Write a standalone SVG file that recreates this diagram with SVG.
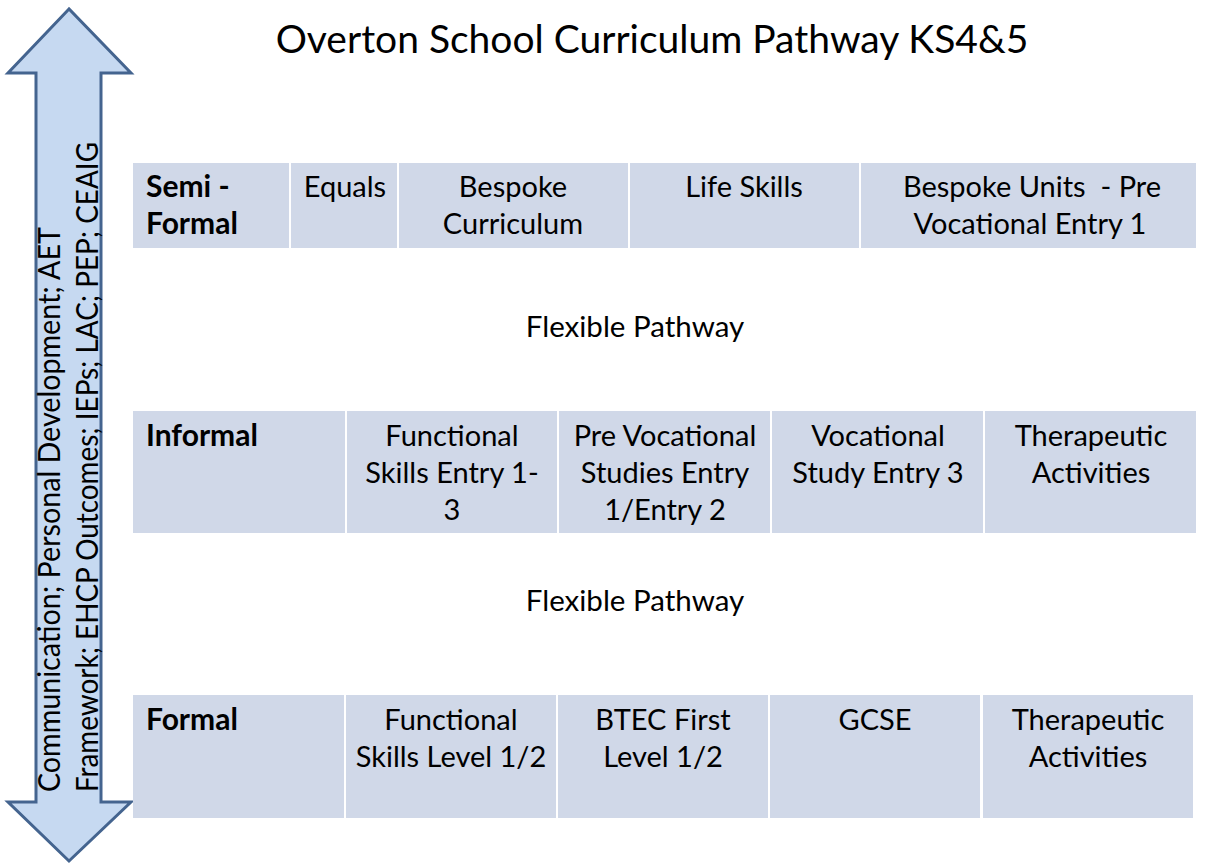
<svg xmlns="http://www.w3.org/2000/svg" width="1206" height="864" viewBox="0 0 1206 864">
  <style>
    text { font-family: Lato, "Open Sans", "Liberation Sans", sans-serif; fill: #000; }
    .title { font-size: 39px; text-anchor: middle; }
    .cell { fill: #d0d8e8; }
    .head { font-size: 30px; font-weight: bold; }
    .item { font-size: 29px; text-anchor: middle; }
    .flex { font-size: 29.5px; text-anchor: middle; }
    .side { font-size: 31px; }
    .arrow { fill: #c6d9f1; stroke: #44648f; stroke-width: 3; stroke-linejoin: miter; }
  </style>

  <rect width="1206" height="864" fill="#ffffff"/>

  <text class="title" x="652" y="53">Overton School Curriculum Pathway KS4&amp;5</text>

  <!-- double-headed arrow with the cross-curricular strands -->
  <g id="strands">
    <path class="arrow" d="M69,9 L8,73 L36,73 L36,802 L8,802 L69,861 L131,802 L101,802 L101,73 L131,73 Z"/>
    <text class="side" transform="translate(60,792) rotate(-90)" textLength="565" lengthAdjust="spacingAndGlyphs">Communication; Personal Development; AET</text>
    <text class="side" transform="translate(98,792) rotate(-90)" textLength="650" lengthAdjust="spacingAndGlyphs">Framework; EHCP Outcomes; IEPs; LAC; PEP; CEAIG</text>
  </g>

  <!-- Semi-formal row -->
  <g id="row-semi-formal">
    <rect class="cell" x="133" y="163" width="156" height="85"/>
    <rect class="cell" x="291" y="163" width="106" height="85"/>
    <rect class="cell" x="399" y="163" width="229" height="85"/>
    <rect class="cell" x="630" y="163" width="229" height="85"/>
    <rect class="cell" x="861" y="163" width="335" height="85"/>
    <text class="head" x="146" y="197">Semi -</text>
    <text class="head" x="146" y="234">Formal</text>
    <text class="item" x="345" y="197">Equals</text>
    <text class="item" x="513" y="197">Bespoke</text>
    <text class="item" x="513" y="234">Curriculum</text>
    <text class="item" x="744" y="197">Life Skills</text>
    <text class="item" x="1032" y="197" xml:space="preserve">Bespoke Units  - Pre</text>
    <text class="item" x="1030" y="234">Vocational Entry 1</text>
  </g>

  <g id="flex-1">
    <text class="flex" x="635" y="337">Flexible Pathway</text>
  </g>

  <!-- Informal row -->
  <g id="row-informal">
    <rect class="cell" x="133" y="411" width="212" height="122"/>
    <rect class="cell" x="347" y="411" width="210" height="122"/>
    <rect class="cell" x="559" y="411" width="211" height="122"/>
    <rect class="cell" x="772" y="411" width="211" height="122"/>
    <rect class="cell" x="985" y="411" width="211" height="122"/>
    <text class="head" x="146" y="446">Informal</text>
    <text class="item" x="452" y="446">Functional</text>
    <text class="item" x="452" y="483">Skills Entry 1-</text>
    <text class="item" x="452" y="520">3</text>
    <text class="item" x="665" y="446">Pre Vocational</text>
    <text class="item" x="665" y="483">Studies Entry</text>
    <text class="item" x="665" y="520">1/Entry 2</text>
    <text class="item" x="878" y="446">Vocational</text>
    <text class="item" x="878" y="483">Study Entry 3</text>
    <text class="item" x="1091" y="446">Therapeutic</text>
    <text class="item" x="1091" y="483">Activities</text>
  </g>

  <g id="flex-2">
    <text class="flex" x="635" y="611">Flexible Pathway</text>
  </g>

  <!-- Formal row -->
  <g id="row-formal">
    <rect class="cell" x="133" y="695" width="211" height="123"/>
    <rect class="cell" x="346" y="695" width="210" height="123"/>
    <rect class="cell" x="558" y="695" width="210" height="123"/>
    <rect class="cell" x="770" y="695" width="210" height="123"/>
    <rect class="cell" x="983" y="695" width="210" height="123"/>
    <text class="head" x="146" y="730">Formal</text>
    <text class="item" x="451" y="730">Functional</text>
    <text class="item" x="451" y="767">Skills Level 1/2</text>
    <text class="item" x="663" y="730">BTEC First</text>
    <text class="item" x="663" y="767">Level 1/2</text>
    <text class="item" x="875" y="730">GCSE</text>
    <text class="item" x="1088" y="730">Therapeutic</text>
    <text class="item" x="1088" y="767">Activities</text>
  </g>
</svg>
